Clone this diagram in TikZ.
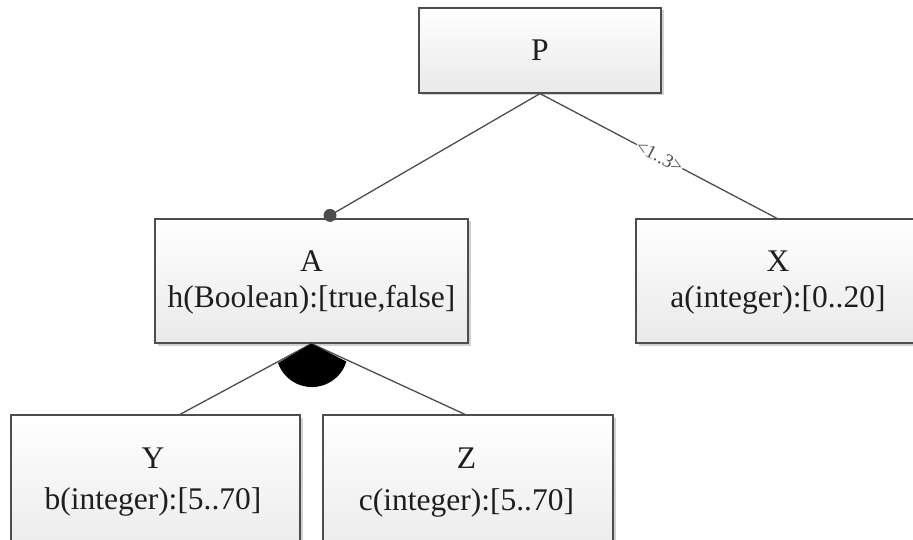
\documentclass[tikz,border=0pt]{standalone}
\usepackage{fontspec}
\setmainfont{Liberation Serif}
\usetikzlibrary{shadows}
\definecolor{edgegray}{HTML}{4D4D4D}
\definecolor{inkgray}{HTML}{1E1E1E}
\definecolor{boxbottom}{HTML}{E9E9E9}
\tikzset{
  featbox/.style={draw=edgegray, line width=1.2pt, rectangle, inner sep=0pt,
    top color=white, bottom color=boxbottom,
    drop shadow={shadow xshift=2.5pt, shadow yshift=-2.5pt, fill=black, opacity=0.18}},
  boxtext/.style={anchor=base, text=inkgray, font=\fontsize{31.5}{36}\selectfont, inner sep=0pt},
  link/.style={draw=edgegray, line width=1.3pt},
  mult/.style={font=\fontsize{19}{20}\selectfont, text=edgegray, fill=white, inner sep=0.5pt, sloped}
}

\begin{document}
\begin{tikzpicture}[x=1pt, y=-1pt]
\useasboundingbox (0,0) rectangle (913,540);
\clip (0,0) rectangle (913,540);
\fill[white] (0,0) rectangle (913,540);

% feature boxes
\node[featbox, minimum width=242pt, minimum height=85pt]  (P) at (540,50.5) {};
\node[featbox, minimum width=313pt, minimum height=124pt] (A) at (311.5,281) {};
\node[featbox, minimum width=289pt, minimum height=124pt] (X) at (780.5,281) {};
\node[featbox, minimum width=289pt, minimum height=150pt] (Y) at (155.5,490) {};
\node[featbox, minimum width=290pt, minimum height=150pt] (Z) at (468,490) {};

% names and attributes
\node[boxtext] (Pname) at (540,61) {P};
\node[boxtext] (Aname) at (311.5,272) {A};
\node[boxtext] (Aattr) at (311.5,307) {h(Boolean):[true,false]};
\node[boxtext] (Xname) at (778,272) {X};
\node[boxtext] (Xattr) at (778,307) {a(integer):[0..20]};
\node[boxtext] (Yname) at (153,468) {Y};
\node[boxtext] (Yattr) at (153,509) {b(integer):[5..70]};
\node[boxtext] (Zname) at (466.5,468) {Z};
\node[boxtext] (Zattr) at (466.5,510) {c(integer):[5..70]};

% connector end points
\coordinate (Adot) at ([xshift=18.5pt, yshift=3pt]A.north);
\coordinate (Xin) at ([xshift=-3.5pt]X.north);
\coordinate (Yin) at ([xshift=24.5pt]Y.north);
\coordinate (Zin) at ([xshift=-3pt]Z.north);

% mandatory child
\draw[link] (P.south) -- (Adot);
\fill[edgegray] (Adot) circle[radius=6.5pt];

% group cardinality
\draw[link] (P.south) -- node[mult, pos=0.505] {<1..3>} (Xin);

% alternative group
\draw[link] (A.south) -- (Yin);
\draw[link] (A.south) -- (Zin);
\fill[black] (A.south) -- (278,363) arc[start angle=160.6, end angle=17, radius=36] -- cycle;
\end{tikzpicture}
\end{document}
